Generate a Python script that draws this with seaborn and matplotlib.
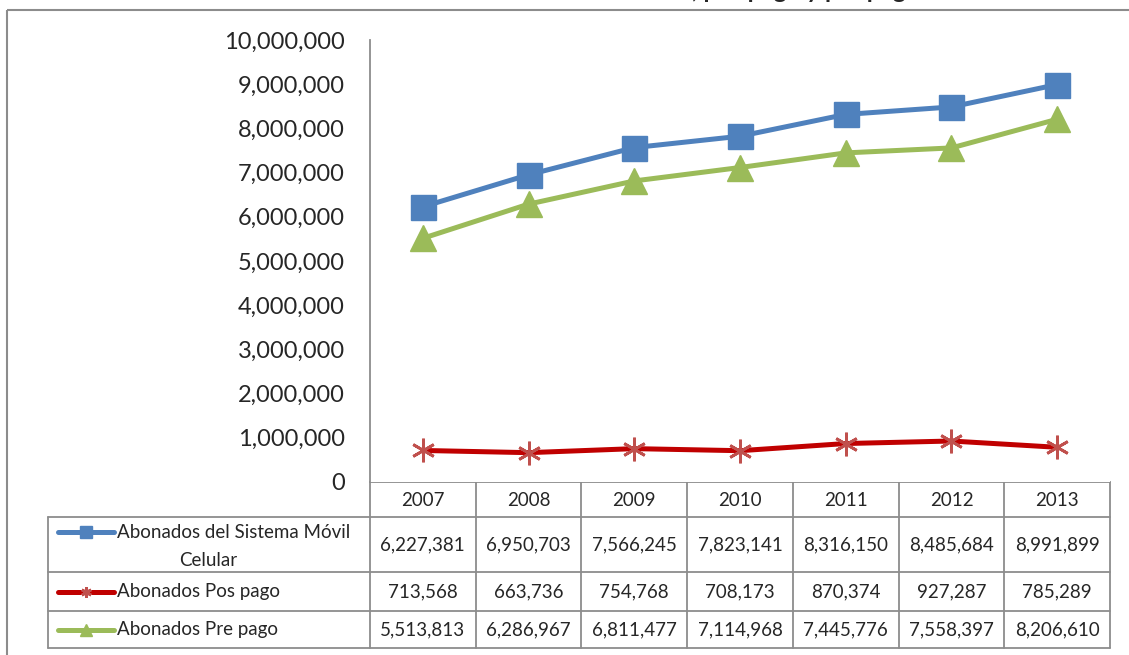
import numpy as np
import pandas as pd
import matplotlib.pyplot as plt
import seaborn as sns
from matplotlib.lines import Line2D
from matplotlib.patches import Rectangle
from matplotlib.ticker import FuncFormatter

years = [2007, 2008, 2009, 2010, 2011, 2012, 2013]
movil = [6227381, 6950703, 7566245, 7823141, 8316150, 8485684, 8991899]
pos_pago = [713568, 663736, 754768, 708173, 870374, 927287, 785289]
pre_pago = [5513813, 6286967, 6811477, 7114968, 7445776, 7558397, 8206610]
series_names = ["Abonados del Sistema Móvil Celular", "Abonados Pos pago", "Abonados Pre pago"]
title = "Abonados del Sistema Móvil Celular, pos pago y pre pago"

df = pd.DataFrame({
    "year": years * 3,
    "value": movil + pos_pago + pre_pago,
    "serie": [n for n in series_names for _ in years],
})

sns.set_style("white")
plt.rcParams['font.family'] = ['Lato', 'DejaVu Sans']

W, H = 1129, 655
fig = plt.figure(figsize=(W / 100, H / 100), dpi=100)
ax = fig.add_axes([370 / W, 1 - 482 / H, 740 / W, 442 / H])

styles = {
    series_names[0]: dict(color="#4F81BD", marker="s", markersize=18, markerfacecolor="#4F81BD",
                          markeredgecolor="#4F81BD", markeredgewidth=1),
    series_names[1]: dict(color="#C00000", marker=(6, 2, 0), markersize=17, markerfacecolor="#C0504D",
                          markeredgecolor="#C0504D", markeredgewidth=2),
    series_names[2]: dict(color="#9BBB59", marker="^", markersize=19, markerfacecolor="#9BBB59",
                          markeredgecolor="#9BBB59", markeredgewidth=1),
}

for name in series_names:
    sub = df[df["serie"] == name]
    sns.lineplot(data=sub, x="year", y="value", ax=ax, linewidth=3.6, legend=False, **styles[name])

ax.set_xlim(years[0] - 0.5, years[-1] + 0.5)
ax.set_ylim(0, 10_000_000)
ax.set_yticks(np.arange(0, 10_000_001, 1_000_000))
ax.yaxis.set_major_formatter(FuncFormatter(lambda v, p: f"{v:,.0f}"))
ax.tick_params(axis='y', length=0, pad=18, labelsize=17)
ax.set_xticks([])
ax.set_xlabel("")
ax.set_ylabel("")
for s in ["top", "right", "bottom"]:
    ax.spines[s].set_visible(False)
ax.spines["left"].set_color("#8C8C8C")
ax.spines["left"].set_linewidth(1.3)

# overlay in pixel coords for the data table and frame
over = fig.add_axes([0, 0, 1, 1], zorder=-1)
over.set_xlim(0, W)
over.set_ylim(H, 0)
over.axis("off")
over.add_patch(Rectangle((7, 10), W, H, fill=False, ec="#8C8C8C", lw=1.5))

gc = "#8C8C8C"
edges = [ax.transData.transform((x, 0))[0] for x in [y - 0.5 for y in years] + [years[-1] + 0.5]]
centers = [ax.transData.transform((y, 0))[0] for y in years]
row_y = [482, 517, 572, 611, 648]
lab_left = 48

# horizontal lines
over.plot([edges[0], edges[-1]], [row_y[0], row_y[0]], color=gc, lw=1.3)
for yy in row_y[1:]:
    over.plot([lab_left, edges[-1]], [yy, yy], color=gc, lw=1.3)
# vertical lines
over.plot([lab_left, lab_left], [row_y[1], row_y[-1]], color=gc, lw=1.3)
over.plot([edges[0], edges[0]], [row_y[0], row_y[-1]], color=gc, lw=1.3)
for e in edges[1:]:
    over.plot([e, e], [row_y[0], row_y[-1]], color=gc, lw=1.3)

# header years
for cx, y in zip(centers, years):
    over.text(cx, (row_y[0] + row_y[1]) / 2 + 1, str(y), ha="center", va="center", fontsize=13.5)

series_vals = [movil, pos_pago, pre_pago]
for r, (name, vals) in enumerate(zip(series_names, series_vals)):
    ymid = (row_y[r + 1] + row_y[r + 2]) / 2
    for cx, v in zip(centers, vals):
        over.text(cx, ymid, f"{v:,}", ha="center", va="center", fontsize=13.5)
    st = styles[name]
    ly = 532 if r == 0 else ymid
    over.add_line(Line2D([58, 114], [ly, ly], color=st["color"], lw=3.6, solid_capstyle="round"))
    over.add_line(Line2D([86], [ly], marker=st["marker"], markersize=st["markersize"] * 0.45,
                         markerfacecolor=st["markerfacecolor"], markeredgecolor=st["markeredgecolor"],
                         markeredgewidth=st["markeredgewidth"], linestyle="none"))
    if r == 0:
        over.text(117, ly, "Abonados del Sistema Móvil", ha="left", va="center", fontsize=13.5)
        over.text(208, 561, "Celular", ha="center", va="center", fontsize=13.5)
    else:
        over.text(117, ly, name, ha="left", va="center", fontsize=13.5)

# clipped title at the top
fig.text(920 / W, 1 + 1.5 / H, title, ha="right", va="baseline", fontsize=17.5, fontweight="bold")

fig.savefig("out.png", dpi=100)
